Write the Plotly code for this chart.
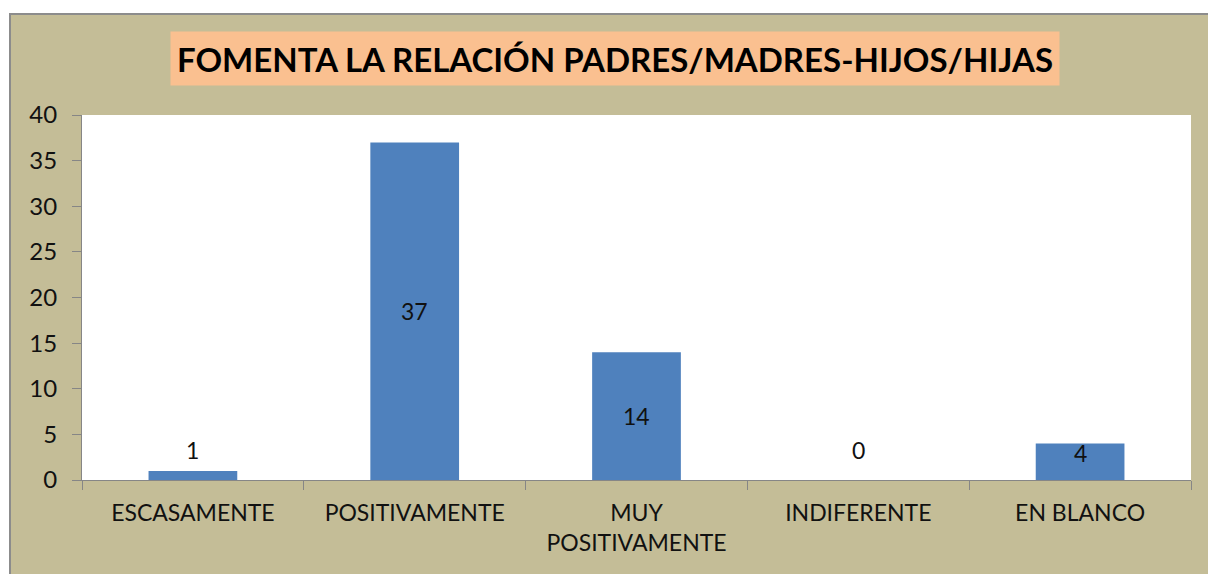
import plotly.graph_objects as go

categories = ["ESCASAMENTE", "POSITIVAMENTE", "MUY<br>POSITIVAMENTE", "INDIFERENTE", "EN BLANCO"]
values = [1, 37, 14, 0, 4]
y_ticks = [0, 5, 10, 15, 20, 25, 30, 35, 40]
title_text = "FOMENTA LA RELACIÓN PADRES/MADRES-HIJOS/HIJAS"

W, H = 1208, 574
L, R, T, B = 82, 1191, 115, 480  # plot area in pixels

def px(x):
    return (x - L) / (R - L)

def py(y):
    return 1 - (y - T) / (B - T)

KHAKI = "#C4BD97"
PEACH = "#FAC090"
BAR = "#4F81BD"
AXIS = "#868686"
FONT = "Lato"
LABEL_FONT = dict(family=FONT, size=23, color="#111")

fig = go.Figure()
fig.add_trace(go.Bar(
    x=categories, y=values, marker=dict(color=BAR, line=dict(width=0)),
    hoverinfo="skip",
))

annotations = []
for c, v in zip(categories, values):
    bar_px = v * (B - T) / 40
    if bar_px < 15:
        # label outside end
        annotations.append(dict(x=c, y=v, xref="x", yref="y", text=str(v),
                                showarrow=False, yanchor="bottom",
                                yshift=5 if v else 14, font=LABEL_FONT))
    elif bar_px < 60:
        annotations.append(dict(x=c, y=v / 2, xref="x", yref="y", text=str(v),
                                showarrow=False, yanchor="middle", yshift=9,
                                font=LABEL_FONT))
    else:
        annotations.append(dict(x=c, y=v / 2, xref="x", yref="y", text=str(v),
                                showarrow=False, yanchor="middle", font=LABEL_FONT))

# title box
annotations.append(dict(
    x=px(615), y=py(58.5), xref="paper", yref="paper", text="<b>" + title_text + "</b>",
    showarrow=False, xanchor="center", yanchor="middle",
    bgcolor=PEACH, width=884, height=49, borderpad=2,
    font=dict(family=FONT, size=33, color="#000"),
))

shapes = [
    dict(type="rect", xref="paper", yref="paper", x0=px(-5), x1=px(W + 5), y0=py(-5), y1=py(13),
         fillcolor="white", line=dict(width=0), layer="above"),
    dict(type="rect", xref="paper", yref="paper", x0=px(-5), x1=px(9), y0=py(-5), y1=py(H + 5),
         fillcolor="white", line=dict(width=0), layer="above"),
    dict(type="line", xref="paper", yref="paper", x0=px(9), x1=px(W + 5), y0=py(14), y1=py(14),
         line=dict(color="#8C8C8C", width=2), layer="above"),
    dict(type="line", xref="paper", yref="paper", x0=px(10), x1=px(10), y0=py(13), y1=py(H + 5),
         line=dict(color="#8C8C8C", width=2), layer="above"),
]

fig.update_layout(
    width=W, height=H,
    margin=dict(l=L, r=W - R, t=T, b=H - B, pad=0),
    paper_bgcolor=KHAKI, plot_bgcolor="white",
    bargap=0.6, showlegend=False,
    annotations=annotations, shapes=shapes,
    font=dict(family=FONT, size=20, color="#111"),
    xaxis=dict(type="category", showline=True, linecolor=AXIS, linewidth=1,
               ticks="outside", tickson="boundaries", ticklen=9, tickcolor=AXIS,
               showgrid=False, tickfont=dict(family=FONT, size=23, color="#111"),
               ticklabelstandoff=12, fixedrange=True),
    yaxis=dict(range=[0, 40], tickvals=y_ticks, showline=True, linecolor=AXIS, linewidth=1,
               ticks="outside", ticklen=9, tickcolor=AXIS, showgrid=False, zeroline=False,
               tickfont=dict(family=FONT, size=24, color="#111"),
               ticklabelstandoff=10, fixedrange=True),
)

fig.write_html("out.html", config={"displayModeBar": False},
               post_script="document.body.style.margin='0';document.body.style.overflow='hidden';")
